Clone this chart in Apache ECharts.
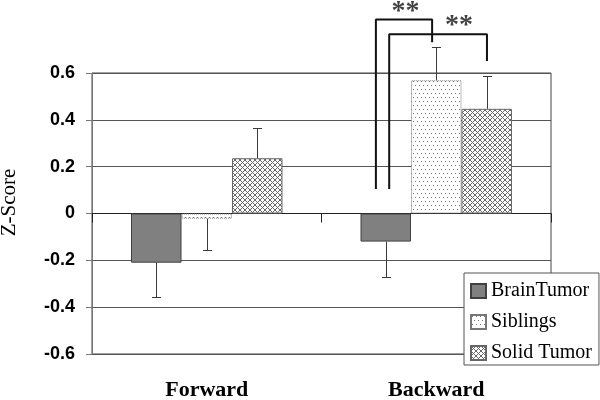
<!DOCTYPE html>
<html>
<head>
<meta charset="utf-8">
<script src="https://cdn.jsdelivr.net/npm/echarts@6/dist/echarts.min.js"></script>
<style>html,body{margin:0;padding:0;background:#fff;}#chart{width:600px;height:400px;}</style>
</head>
<body>
<div id="chart"></div>
<script>
const categories = ['Forward', 'Backward'];
const seriesNames = ['BrainTumor', 'Siblings', 'Solid Tumor'];
const brainTumor = [-0.21, -0.12];
const siblings = [-0.022, 0.569];
const solidTumor = [0.236, 0.447];
const brainTumorErr = [0.148, 0.152];
const siblingsErr = [0.134, 0.143];
const solidTumorErr = [0.128, 0.139];
const yTicks = [-0.6, -0.4, -0.2, 0, 0.2, 0.4, 0.6];
const bracket1 = [[1.237, 0.105], [1.237, 0.828], [1.482, 0.828], [1.482, 0.731]];
const bracket2 = [[1.295, 0.105], [1.295, 0.766], [1.721, 0.766], [1.721, 0.651]];
const starMarks = [[1.366, 0.862], [1.599, 0.800]];
const starText = '**';

function dotsPattern() {
  const c = document.createElement('canvas');
  c.width = 4; c.height = 8;
  const g = c.getContext('2d');
  g.fillStyle = '#fff'; g.fillRect(0, 0, 4, 8);
  g.fillStyle = '#777';
  g.fillRect(1, 1, 1, 1); g.fillRect(3, 5, 1, 1);
  return c;
}
function hatchPattern() {
  const c = document.createElement('canvas');
  c.width = 5; c.height = 5;
  const g = c.getContext('2d');
  g.fillStyle = '#fff'; g.fillRect(0, 0, 5, 5);
  g.fillStyle = '#6a6a6a';
  for (let i = 0; i < 5; i++) { g.fillRect(i, i, 1, 1); g.fillRect(i, 4 - i, 1, 1); }
  return c;
}

const barGapRatio = 0.34;
const valueSets = [brainTumor, siblings, solidTumor];
const errSets = [brainTumorErr, siblingsErr, solidTumorErr];
const errData = [];
valueSets.forEach((vals, k) => vals.forEach((v, i) => errData.push([i, v, errSets[k][i], k])));

const fills = [
  { color: '#808080', borderColor: '#404040', borderWidth: 1 },
  { color: { image: dotsPattern(), repeat: 'repeat' }, borderColor: '#777', borderWidth: 1, borderType: 'dotted' },
  { color: { image: hatchPattern(), repeat: 'repeat' }, borderColor: '#666', borderWidth: 1 }
];

const serif = 'Liberation Serif';
const chart = echarts.init(document.getElementById('chart'), null, { renderer: 'canvas' });
const option = {
  animation: false,
  grid: { left: 92, right: 49, top: 73, bottom: 46, show: true, borderColor: '#444', borderWidth: 1,
    backgroundColor: 'transparent', containLabel: false, outerBoundsMode: 'none' },
  legend: {
    data: seriesNames, orient: 'vertical', left: 464, top: 273,
    itemWidth: 15, itemHeight: 14, itemGap: 11, padding: [8, 7, 2, 6],
    backgroundColor: '#fff', borderColor: '#555', borderWidth: 1, icon: 'rect',
    textStyle: { fontFamily: serif, fontSize: 20, color: '#000' },
    selectedMode: false
  },
  xAxis: [
    { type: 'category', data: categories, position: 'bottom',
      axisLine: { show: false, onZero: false }, axisTick: { show: false },
      axisLabel: { fontFamily: serif, fontWeight: 'bold', fontSize: 22, color: '#000', margin: 25 } },
    { type: 'category', data: categories, position: 'bottom',
      axisLine: { show: true, onZero: true, lineStyle: { color: '#222', width: 1 } },
      axisTick: { show: true, length: 9, lineStyle: { color: '#222' } },
      axisLabel: { show: false } },
    { type: 'value', min: 0, max: 2, show: false }
  ],
  yAxis: {
    type: 'value', min: yTicks[0], max: yTicks[yTicks.length - 1], interval: 0.2,
    name: 'Z-Score', nameLocation: 'middle', nameGap: 72,
    nameTextStyle: { fontFamily: serif, fontSize: 21, color: '#000', padding: [0, 0, 0, 22] },
    axisLine: { show: true, lineStyle: { color: '#777' } },
    axisTick: { show: true, length: 6, lineStyle: { color: '#777' } },
    axisLabel: { fontFamily: 'Liberation Sans', fontWeight: 'bold', fontSize: 18, color: '#000', margin: 17 },
    splitLine: { show: true, lineStyle: { color: '#555', width: 1 } }
  },
  series: [
    ...seriesNames.map((n, k) => ({
      name: n, type: 'bar', xAxisIndex: 1, data: valueSets[k],
      barGap: '0%', barCategoryGap: (barGapRatio * 100) + '%',
      itemStyle: fills[k], z: 3
    })),
    { type: 'custom', xAxisIndex: 1, data: errData, encode: { x: 0, y: 1 }, z: 4, silent: true,
      renderItem: function (params, api) {
        const cat = api.value(0), v = api.value(1), e = api.value(2), k = api.value(3);
        const band = api.size([1, 0])[0];
        const bw = band * (1 - barGapRatio) / 3;
        const p0 = api.coord([cat, v]);
        const p1 = api.coord([cat, v + (v < 0 ? -e : e)]);
        const x = Math.round(p0[0] + (k - 1) * bw) + 0.5;
        const y1 = Math.round(p1[1]) + 0.5;
        const st = { stroke: '#3a3a3a', lineWidth: 1 };
        return { type: 'group', children: [
          { type: 'line', shape: { x1: x, y1: p0[1], x2: x, y2: y1 }, style: st },
          { type: 'line', shape: { x1: x - 4.5, y1: y1, x2: x + 4.5, y2: y1 }, style: st }
        ] };
      } },
    ...[bracket1, bracket2].map(b => ({
      type: 'line', xAxisIndex: 2, data: b, symbol: 'none', clip: false, silent: true, z: 5,
      lineStyle: { color: '#111', width: 2 }
    })),
    { type: 'scatter', xAxisIndex: 2, data: starMarks, symbolSize: 0, clip: false, silent: true, z: 6,
      label: { show: true, position: 'inside', formatter: starText,
        fontFamily: serif, fontWeight: 'bold', fontSize: 28, color: '#111' } }
  ]
};
chart.setOption(option);
</script>
</body>
</html>
